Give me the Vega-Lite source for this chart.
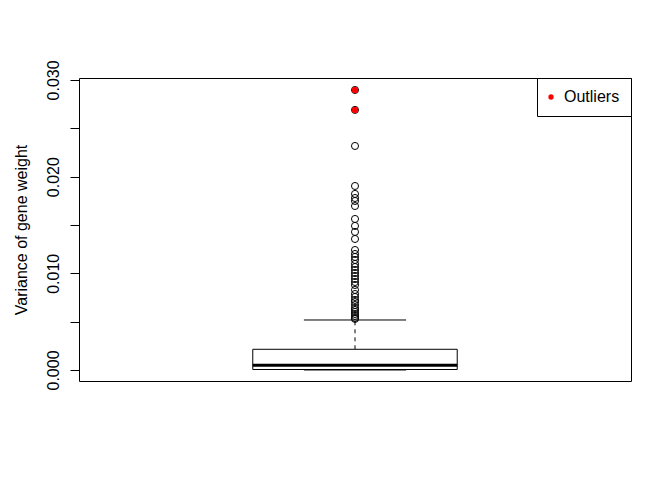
{
  "$schema": "https://vega.github.io/schema/vega-lite/v6.json",
  "width": 552,
  "height": 303,
  "autosize": {"type": "none"},
  "padding": {"left": 79, "top": 78, "right": 41, "bottom": 99},
  "background": "white",
  "datasets": {
    "stats": [{"lower": 0.0, "q1": 0.00005, "median": 0.00049, "q3": 0.00214, "upper": 0.00517}],
    "points": [
      {"value": 0.02896, "flag": true},
      {"value": 0.02690, "flag": true},
      {"value": 0.02317, "flag": false},
      {"value": 0.01903, "flag": false},
      {"value": 0.01821, "flag": false},
      {"value": 0.01779, "flag": false},
      {"value": 0.01748, "flag": false},
      {"value": 0.01696, "flag": false},
      {"value": 0.01562, "flag": false},
      {"value": 0.01490, "flag": false},
      {"value": 0.01428, "flag": false},
      {"value": 0.01355, "flag": false},
      {"value": 0.01241, "flag": false},
      {"value": 0.01200, "flag": false},
      {"value": 0.01169, "flag": false},
      {"value": 0.01138, "flag": false},
      {"value": 0.01097, "flag": false},
      {"value": 0.01065, "flag": false},
      {"value": 0.01034, "flag": false},
      {"value": 0.01003, "flag": false},
      {"value": 0.00972, "flag": false},
      {"value": 0.00941, "flag": false},
      {"value": 0.00910, "flag": false},
      {"value": 0.00879, "flag": false},
      {"value": 0.00828, "flag": false},
      {"value": 0.00786, "flag": false},
      {"value": 0.00755, "flag": false},
      {"value": 0.00724, "flag": false},
      {"value": 0.00703, "flag": false},
      {"value": 0.00672, "flag": false},
      {"value": 0.00641, "flag": false},
      {"value": 0.00621, "flag": false},
      {"value": 0.00600, "flag": false},
      {"value": 0.00579, "flag": false},
      {"value": 0.00559, "flag": false},
      {"value": 0.00538, "flag": false},
      {"value": 0.00528, "flag": false}
    ]
  },
  "config": {
    "font": "Liberation Sans",
    "view": {"stroke": "black", "strokeWidth": 1},
    "axisY": {
      "values": [0, 0.005, 0.01, 0.015, 0.02, 0.025, 0.03],
      "labelExpr": "abs(round(datum.value * 1000) % 10) == 0 ? format(datum.value, '.3f') : ''",
      "labelAngle": -90,
      "labelAlign": "center",
      "labelBaseline": "bottom",
      "labelPadding": 9,
      "labelFontSize": 16,
      "labelColor": "black",
      "labelFont": "Liberation Sans",
      "tickSize": 9,
      "tickColor": "black",
      "domain": false,
      "grid": false,
      "titleFontSize": 16,
      "titleFontWeight": "normal",
      "titleColor": "black",
      "titleFont": "Liberation Sans",
      "titlePadding": 16
    },
    "legend": {
      "orient": "top-right",
      "offset": 0,
      "strokeColor": "black",
      "fillColor": "white",
      "padding": 11,
      "labelFontSize": 16,
      "labelFont": "Liberation Sans",
      "labelColor": "black",
      "labelOffset": 5,
      "symbolSize": 28,
      "symbolOffset": -5,
      "symbolType": "circle",
      "symbolStrokeWidth": 0,
      "cornerRadius": 0,
      "rowPadding": 0
    }
  },
  "layer": [
    {
      "data": {"name": "stats"},
      "mark": {"type": "rule", "color": "black", "strokeWidth": 1, "strokeDash": [4, 4]},
      "encoding": {
        "x": {"datum": 1, "type": "quantitative", "scale": {"domain": [0.46, 1.54], "nice": false, "zero": false}, "axis": null},
        "y": {"field": "q3", "type": "quantitative", "scale": {"domain": [-0.00114, 0.0302], "nice": false, "zero": false}, "title": "Variance of gene weight"},
        "y2": {"field": "upper"}
      }
    },
    {
      "data": {"name": "stats"},
      "mark": {"type": "rule", "color": "black", "strokeWidth": 1, "strokeDash": [4, 4]},
      "encoding": {
        "x": {"datum": 1, "type": "quantitative", "axis": null},
        "y": {"field": "lower", "type": "quantitative", "title": "Variance of gene weight"},
        "y2": {"field": "q1"}
      }
    },
    {
      "data": {"name": "stats"},
      "mark": {"type": "rule", "color": "black", "strokeWidth": 1},
      "encoding": {
        "x": {"datum": 0.9, "type": "quantitative", "axis": null},
        "x2": {"datum": 1.1},
        "y": {"field": "upper", "type": "quantitative", "title": "Variance of gene weight"}
      }
    },
    {
      "data": {"name": "stats"},
      "mark": {"type": "rule", "color": "black", "strokeWidth": 1},
      "encoding": {
        "x": {"datum": 0.9, "type": "quantitative", "axis": null},
        "x2": {"datum": 1.1},
        "y": {"field": "lower", "type": "quantitative", "title": "Variance of gene weight"}
      }
    },
    {
      "data": {"name": "stats"},
      "mark": {"type": "rect", "fill": "white", "stroke": "black", "strokeWidth": 1},
      "encoding": {
        "x": {"datum": 0.8, "type": "quantitative", "axis": null},
        "x2": {"datum": 1.2},
        "y": {"field": "q1", "type": "quantitative", "title": "Variance of gene weight"},
        "y2": {"field": "q3"}
      }
    },
    {
      "data": {"name": "stats"},
      "mark": {"type": "rule", "color": "black", "strokeWidth": 3},
      "encoding": {
        "x": {"datum": 0.8, "type": "quantitative", "axis": null},
        "x2": {"datum": 1.2},
        "y": {"field": "median", "type": "quantitative", "title": "Variance of gene weight"}
      }
    },
    {
      "data": {"name": "points"},
      "mark": {"type": "point", "shape": "circle", "filled": false, "stroke": "black", "strokeWidth": 1, "size": 50, "opacity": 1},
      "encoding": {
        "x": {"datum": 1, "type": "quantitative", "axis": null},
        "y": {"field": "value", "type": "quantitative", "title": "Variance of gene weight"}
      }
    },
    {
      "data": {"name": "points"},
      "transform": [{"filter": "datum.flag"}],
      "mark": {"type": "point", "shape": "circle", "filled": true, "size": 42, "opacity": 1},
      "encoding": {
        "x": {"datum": 1, "type": "quantitative", "axis": null},
        "y": {"field": "value", "type": "quantitative", "title": "Variance of gene weight"},
        "color": {"datum": "Outliers", "type": "nominal", "scale": {"range": ["#ff0000"]}, "legend": {"title": null}}
      }
    }
  ]
}
